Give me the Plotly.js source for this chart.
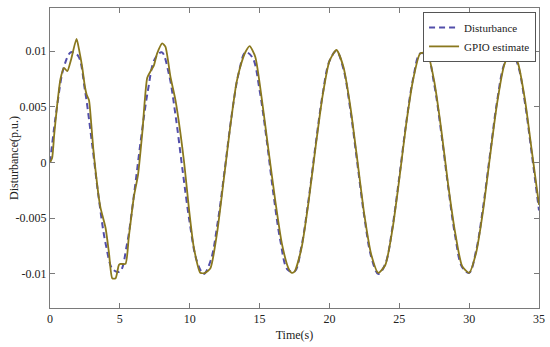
<!DOCTYPE html>
<html>
<head>
<meta charset="utf-8">
<script src="https://cdn.plot.ly/plotly-3.0.1.min.js"></script>
<style>html,body{margin:0;padding:0;background:#fff;}#chart{width:550px;height:347px;}</style>
</head>
<body>
<div id="chart"></div>
<script>
// Disturbance (dashed), sampled every 0.5 s
const distT = [0,0.5,1,1.5,2,2.5,3,3.5,4,4.5,5,5.5,6,6.5,7,7.5,8,8.5,9,9.5,10,10.5,11,11.5,12,12.5,13,13.5,14,14.5,15,15.5,16,16.5,17,17.5,18,18.5,19,19.5,20,20.5,21,21.5,22,22.5,23,23.5,24,24.5,25,25.5,26,26.5,27,27.5,28,28.5,29,29.5,30,30.5,31,31.5,32,32.5,33,33.5,34,34.5,35];
const distV = [0,0.0050,0.0086,0.0099,0.0096,0.0065,0.0018,-0.0033,-0.0074,-0.0096,-0.0098,-0.0074,-0.0030,0.0020,0.0064,0.0093,0.0099,0.0080,0.0041,-0.0008,-0.0054,-0.0088,-0.0100,-0.0088,-0.0054,-0.0007,0.0042,0.0080,0.0099,0.0094,0.0065,0.0021,-0.0029,-0.0071,-0.0096,-0.0098,-0.0075,-0.0034,0.0015,0.0060,0.0091,0.0100,0.0084,0.0047,-0.0001,-0.0049,-0.0085,-0.0100,-0.0091,-0.0059,-0.0013,0.0036,0.0076,0.0098,0.0096,0.0070,0.0027,-0.0022,-0.0066,-0.0094,-0.0099,-0.0079,-0.0040,0.0008,0.0055,0.0088,0.0100,0.0087,0.0053,0.0006,-0.0043];

// GPIO estimate (solid)
const gpioT = [0,0.15,0.3,0.5,0.75,1.0,1.24,1.5,1.9,2.1,2.3,2.5,2.62,2.79,2.95,3.1,3.26,3.5,3.62,3.98,4.22,4.46,4.69,4.93,5.05,5.4,5.64,6.0,6.3,6.6,6.96,7.2,7.43,7.67,8.03,8.26,8.62,8.98,9.34,9.6,9.85,9.95,10.29,10.76,11.1,11.48,11.96,12.43,12.9,13.34,13.62,13.98,14.29,14.69,15.17,15.64,16.12,16.6,17.07,17.31,17.5,18,18.5,19,19.5,20,20.5,21,21.5,22,22.5,23,23.5,24,24.5,25,25.5,26,26.5,27,27.5,28,28.5,29,29.5,30,30.5,31,31.5,32,32.5,33,33.5,34,34.5,35];
const gpioV = [0,0.0004,0.0025,0.0050,0.0075,0.0085,0.0082,0.0092,0.0111,0.0100,0.0086,0.0068,0.0061,0.0056,0.0035,0.0012,-0.0007,-0.0032,-0.0041,-0.0059,-0.0081,-0.0104,-0.0104,-0.0092,-0.0091,-0.0091,-0.0067,-0.0031,-0.0011,0.0026,0.0076,0.0082,0.0087,0.0098,0.0107,0.0104,0.0077,0.0056,0.0026,0.0000,-0.0030,-0.0042,-0.0076,-0.0099,-0.0099,-0.0095,-0.0063,-0.0016,0.0032,0.0071,0.0086,0.0099,0.01045,0.0095,0.0056,0.0011,-0.0034,-0.0073,-0.0095,-0.0099,-0.0098,-0.0077,-0.0036,0.0013,0.0059,0.0091,0.0101,0.0086,0.0050,0.0002,-0.0047,-0.0083,-0.0099,-0.0092,-0.0061,-0.0015,0.0035,0.0075,0.0098,0.0098,0.0073,0.0030,-0.0020,-0.0063,-0.0093,-0.0099,-0.0081,-0.0043,0.0006,0.0053,0.0087,0.0101,0.0089,0.0056,0.0009,-0.0038];

const xTicks = [0,5,10,15,20,25,30,35];
const yTicks = [-0.01,-0.005,0,0.005,0.01];
const yTickText = ['-0.01','-0.005','0','0.005','0.01'];

const font = 'Liberation Serif, Times New Roman, serif';

const traces = [
  {x: distT, y: distV, type:'scatter', mode:'lines', name:'Disturbance',
   line:{color:'rgb(82,78,170)', width:2, dash:'6px,4px', shape:'spline', smoothing:1}},
  {x: gpioT, y: gpioV, type:'scatter', mode:'lines', name:'GPIO estimate',
   line:{color:'rgb(138,120,30)', width:1.8, shape:'spline', smoothing:0.6}}
];

const axisCommon = {
  showline:true, linecolor:'#7a7a7a', linewidth:1, mirror:'ticks',
  ticks:'inside', ticklen:5, tickcolor:'#7a7a7a', showgrid:false, zeroline:false,
  tickfont:{family:font, size:12, color:'#222'}
};

const layout = {
  width:550, height:347,
  margin:{l:50, r:11, t:8, b:39},
  paper_bgcolor:'#fff', plot_bgcolor:'#fff',
  showlegend:true,
  xaxis: Object.assign({}, axisCommon, {
    range:[0,35], tickvals:xTicks, ticktext:xTicks.map(String),
    title:{text:'Time(s)', font:{family:font, size:12, color:'#222'}, standoff:5}
  }),
  yaxis: Object.assign({}, axisCommon, {
    range:[-0.01306,0.01387], tickvals:yTicks, ticktext:yTickText
  }),
  annotations:[{
    text:'Disturbance(p.u.)', textangle:-90, xref:'paper', yref:'paper',
    x:-0.0736, y:0.5, xanchor:'center', yanchor:'middle', showarrow:false,
    font:{family:font, size:12, color:'#222'}
  }],
  legend:{x:0.994, xanchor:'right', y:0.987, yanchor:'top',
    bgcolor:'#fff', bordercolor:'#555', borderwidth:1,
    font:{family:font, size:11, color:'#222'}, tracegroupgap:0, itemwidth:30}
};

Plotly.newPlot('chart', traces, layout, {displayModeBar:false, staticPlot:true});
</script>
</body>
</html>
